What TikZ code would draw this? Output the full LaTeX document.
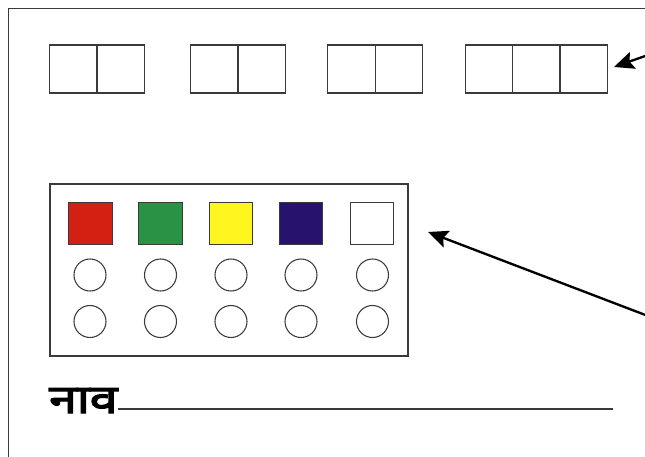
\documentclass[tikz,border=0pt]{standalone}
\usepackage{fontspec}
\newfontfamily\devfont[Script=Devanagari, AutoFakeBold=3]{Noto Sans}
\usetikzlibrary{arrows.meta}
\definecolor{tokred}{HTML}{D42013}
\definecolor{tokgreen}{HTML}{2A9244}
\definecolor{tokyellow}{HTML}{FFF620}
\definecolor{tokblue}{HTML}{27136D}
\definecolor{edge}{HTML}{3A3A3A}
\begin{document}
\begin{tikzpicture}
        [x=0.03cm, y=-0.03cm,
        cell/.style={rectangle, draw=edge, line width=0.9pt, minimum width=1.42cm, minimum height=1.44cm, inner sep=0pt, outer sep=0pt},
        swatch/.style={rectangle, draw=edge, line width=0.9pt, minimum width=1.3cm, minimum height=1.28cm, inner sep=0pt},
        hole/.style={circle, draw=edge, line width=0.9pt, minimum size=0.96cm, inner sep=0pt},
        pointer/.style={line width=2pt, -{Stealth[length=17pt, width=15pt, inset=3pt]}}]
        \useasboundingbox (0,0) rectangle (645,457);
        \draw[edge, line width=0.8pt] (8,457) -- (8,8) -- (645,8);

        % top boxes
        \node[cell] (A1) at (73,69) {};
        \node[cell] (A2) at (121,69) {};
        \node[cell] (B1) at (214,69) {};
        \node[cell] (B2) at (262,69) {};
        \node[cell] (C1) at (351.5,69) {};
        \node[cell] (C2) at (399,69) {};
        \node[cell] (D1) at (489,69) {};
        \node[cell] (D2) at (536.5,69) {};
        \node[cell] (D3) at (583.5,69) {};

        % tray
        \node[rectangle, draw=edge, line width=1pt, minimum width=10.74cm, minimum height=5.16cm] (tray) at (229,270) {};
        \node[swatch, fill=tokred] (S1) at (90.5,223.5) {};
        \node[swatch, fill=tokgreen] (S2) at (160.5,223.5) {};
        \node[swatch, fill=tokyellow] (S3) at (231,223.5) {};
        \node[swatch, fill=tokblue] (S4) at (301,223.5) {};
        \node[swatch, fill=white] (S5) at (372,223.5) {};
        \foreach \i/\x in {1/90,2/160.5,3/231,4/301,5/372.5} {
            \node[hole] (P\i) at (\x,275) {};
            \node[hole] (Q\i) at (\x,321.5) {};
        }

        % name line
        \node[anchor=base west, inner sep=0pt, font=\devfont\bfseries\fontsize{34}{34}\selectfont] (naav) at (49,413) {\scalebox{1.25}[1]{नाव}};
        \coordinate (lineEnd) at (613,409);
        \draw[edge, line width=0.9pt] (naav.east |- lineEnd) -- (lineEnd);

        % arrows
        \coordinate (tailA) at (648,55);
        \coordinate (tipA) at (614,67);
        \coordinate (tailB) at (648,316);
        \coordinate (tipB) at (428,232);
        \draw[pointer] (tailA) -- (tipA);
        \draw[pointer] (tailB) -- (tipB);
    \end{tikzpicture}
\end{document}
